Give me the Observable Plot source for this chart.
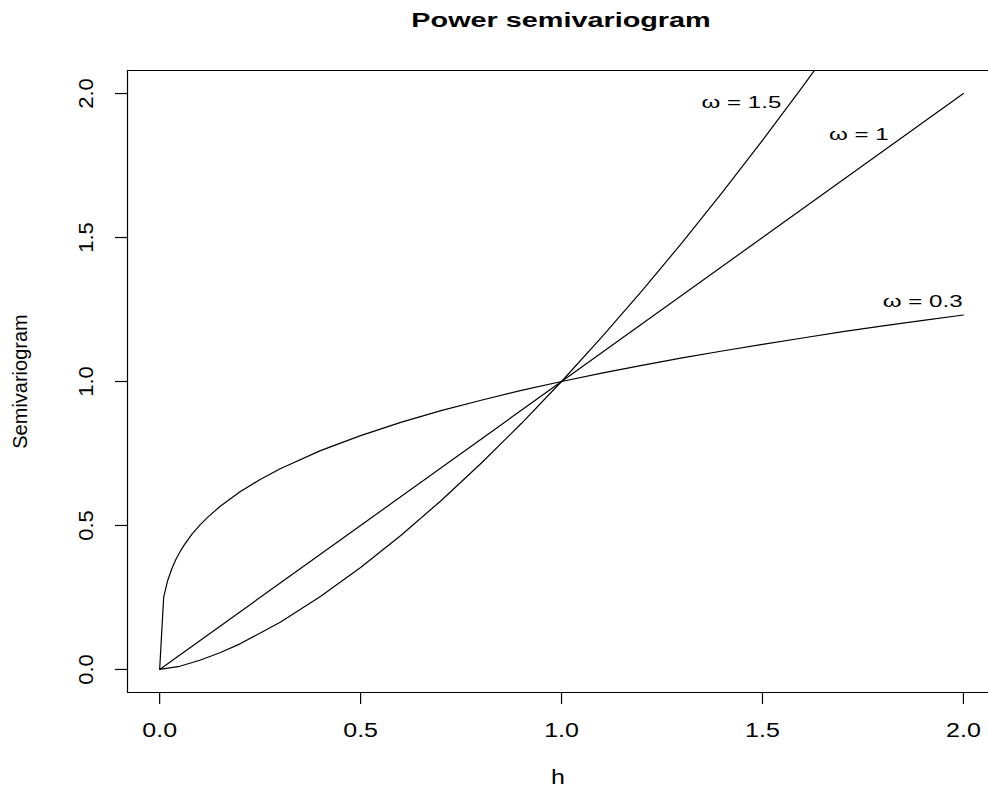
<!DOCTYPE html>
<html>
<head>
<meta charset="utf-8">
<script src="https://cdn.jsdelivr.net/npm/d3@7"></script>
<script src="https://cdn.jsdelivr.net/npm/@observablehq/plot@0.6"></script>
<style>
  body { margin: 0; background: #fff; }
  #wrap { width: 988px; height: 788px; position: relative; overflow: hidden; background: #fff; }
  #title { height: 48px; position: relative; font-family: "Liberation Sans", Arial, sans-serif; font-weight: bold; font-size: 20px; line-height: 20px; }
  #title span { position: absolute; left: 561px; top: 10px; white-space: nowrap; transform-origin: 0 0; transform: scaleX(1.44) translateX(-50%); }
  svg { display: block; }
</style>
</head>
<body>
<div id="wrap">
  <div id="title"><span>Power semivariogram</span></div>
</div>
<script>
// ω = 0.3
const h03 = [0, 0.01, 0.02, 0.03, 0.04, 0.05, 0.06, 0.08, 0.1, 0.12, 0.15, 0.2, 0.25, 0.3, 0.4, 0.5, 0.6, 0.7, 0.8, 0.9, 1.0, 1.1, 1.2, 1.3, 1.4, 1.5, 1.6, 1.7, 1.8, 1.9, 2.0];
const v03 = [0, 0.251, 0.309, 0.349, 0.381, 0.407, 0.430, 0.469, 0.501, 0.529, 0.566, 0.617, 0.660, 0.697, 0.760, 0.812, 0.858, 0.899, 0.935, 0.969, 1.000, 1.029, 1.056, 1.082, 1.106, 1.129, 1.151, 1.173, 1.193, 1.212, 1.231];
// ω = 1
const h1 = [0, 0.5, 1.0, 1.5, 2.0];
const v1 = [0, 0.5, 1.0, 1.5, 2.0];
// ω = 1.5
const h15 = [0, 0.05, 0.1, 0.15, 0.2, 0.3, 0.4, 0.5, 0.6, 0.7, 0.8, 0.9, 1.0, 1.1, 1.2, 1.3, 1.4, 1.5, 1.6, 1.7, 1.8, 1.9, 2.0];
const v15 = [0, 0.011, 0.032, 0.058, 0.089, 0.164, 0.253, 0.354, 0.465, 0.586, 0.716, 0.854, 1.000, 1.154, 1.315, 1.482, 1.657, 1.837, 2.024, 2.217, 2.415, 2.619, 2.828];

const xTicks = [0, 0.5, 1.0, 1.5, 2.0];
const yTicks = [0, 0.5, 1.0, 1.5, 2.0];
const xTickLabels = ["0.0", "0.5", "1.0", "1.5", "2.0"];
const yTickLabels = ["0.0", "0.5", "1.0", "1.5", "2.0"];

const labelText = ["ω = 1.5", "ω = 1", "ω = 0.3"];
const labelH = [1.547, 1.814, 1.998];
const labelV = [1.969, 1.858, 1.278];

// axis extents (R's 4% padding; the right edge is cut off by the picture)
const xDomain = [-0.08, 2.0624];
const yDomain = [-0.08, 2.08];

const rows = [
  ...h03.map((h, i) => ({h, g: v03[i], omega: "0.3"})),
  ...h1.map((h, i) => ({h, g: v1[i], omega: "1"})),
  ...h15.map((h, i) => ({h, g: v15[i], omega: "1.5"}))
];
const labels = labelText.map((t, i) => ({t, h: labelH[i], v: labelV[i]}));

const font = "Liberation Sans, Arial, Helvetica, sans-serif";

const svg = Plot.plot({
  width: 988,
  height: 740,
  marginLeft: 127,
  marginRight: 0,
  marginTop: 22,
  marginBottom: 96,
  x: {domain: xDomain},
  y: {domain: yDomain},
  style: {fontFamily: font, background: "white", color: "black", overflow: "hidden"},
  marks: [
    Plot.ruleY(yDomain, {stroke: "black", strokeWidth: 1.2}),
    Plot.ruleX([xDomain[0]], {stroke: "black", strokeWidth: 1.2}),
    Plot.axisX({ticks: xTicks, tickSize: 12, tickPadding: 18.5, fontSize: 20, strokeWidth: 1.2,
      tickFormat: (d) => xTickLabels[xTicks.indexOf(d)], label: null}),
    Plot.axisY({ticks: yTicks, tickSize: 12, strokeWidth: 1.2, tickFormat: () => "", label: null}),
    Plot.text(yTicks, {y: (d) => d, text: (d, i) => yTickLabels[i], frameAnchor: "left", dx: -41,
      rotate: -90, textAnchor: "middle", lineAnchor: "middle", fontSize: 20, ariaDescription: "ytick"}),
    Plot.text(["Semivariogram"], {frameAnchor: "left", dx: -107, rotate: -90, textAnchor: "middle",
      lineAnchor: "middle", fontSize: 20, ariaDescription: "ylab"}),
    Plot.text(["h"], {frameAnchor: "bottom", dy: 85, textAnchor: "middle", lineAnchor: "middle",
      fontSize: 20, ariaDescription: "xlab"}),
    Plot.line(rows, {x: "h", y: "g", z: "omega", stroke: "black", strokeWidth: 1.2, clip: true}),
    Plot.text(labels, {x: "h", y: "v", text: "t", textAnchor: "end", lineAnchor: "middle",
      fontSize: 17, ariaDescription: "omega"})
  ]
});

function stretch(selector, sx) {
  d3.select(svg).selectAll(selector).selectAll("text").each(function () {
    const x = +this.getAttribute("x") || 0, y = +this.getAttribute("y") || 0;
    const t = this.getAttribute("transform") || "";
    this.setAttribute("transform", `${t} translate(${x},${y}) scale(${sx},1) translate(${-x},${-y})`);
  });
}
stretch('g[aria-label="x-axis tick label"]', 1.25);
stretch('g[aria-description="ytick"]', 1.1);
stretch('g[aria-description="xlab"]', 1.25);
stretch('g[aria-description="omega"]', 1.42);

document.getElementById("wrap").appendChild(svg);
</script>
</body>
</html>
